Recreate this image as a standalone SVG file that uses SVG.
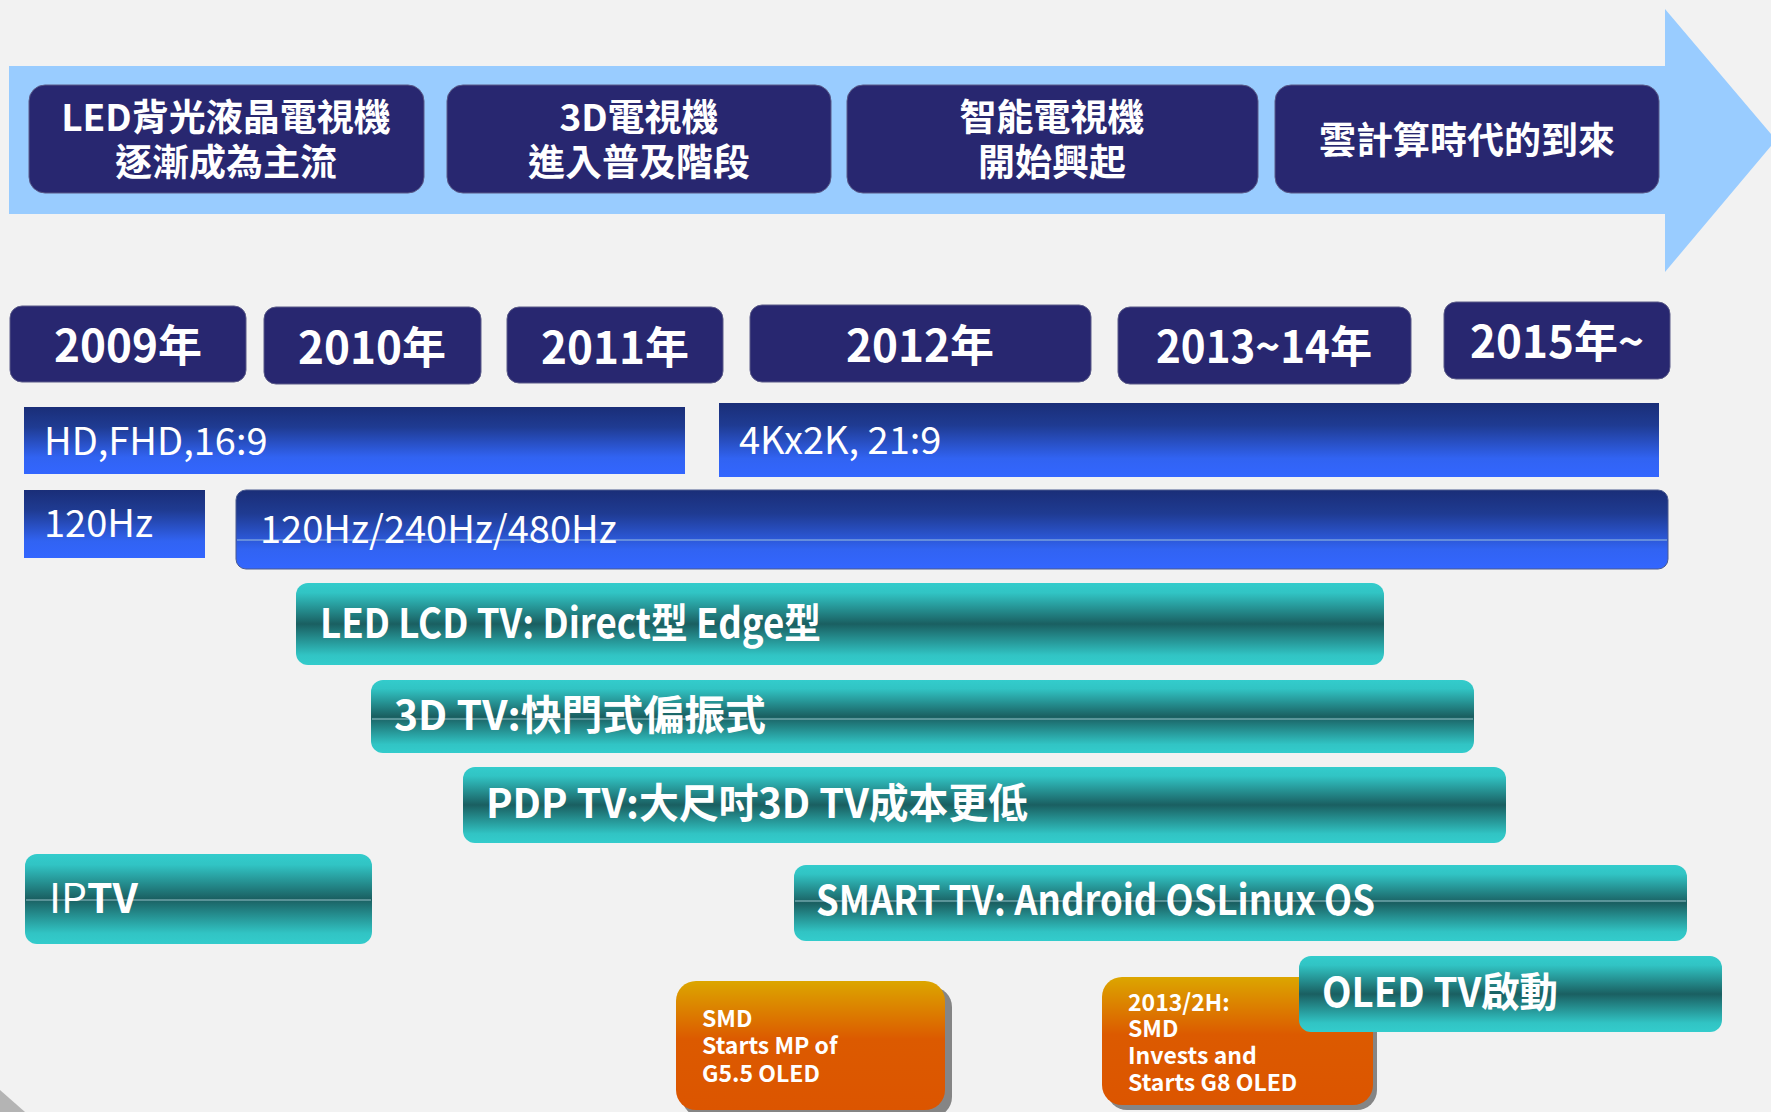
<svg xmlns="http://www.w3.org/2000/svg" width="1771" height="1112" viewBox="0 0 1771 1112">
<defs>
<linearGradient id="gBlue" x1="0" y1="0" x2="0" y2="1">
<stop offset="0" stop-color="#1A2E78"/>
<stop offset="0.3" stop-color="#1F3B92"/>
<stop offset="0.75" stop-color="#3163F2"/>
<stop offset="1" stop-color="#3366FF"/>
</linearGradient>
<linearGradient id="gTeal" x1="0" y1="0" x2="0" y2="1">
<stop offset="0" stop-color="#33CCCC"/>
<stop offset="0.12" stop-color="#31C4C4"/>
<stop offset="0.5" stop-color="#1A5F61"/>
<stop offset="0.88" stop-color="#31C4C4"/>
<stop offset="1" stop-color="#33CCCC"/>
</linearGradient>
<linearGradient id="gOrange" x1="0" y1="0" x2="0" y2="1">
<stop offset="0" stop-color="#DCA600"/>
<stop offset="0.45" stop-color="#DC5A00"/>
<stop offset="1" stop-color="#DC5500"/>
</linearGradient>
<style>
text{font-family:"Noto Sans CJK TC","Liberation Sans",sans-serif;fill:#FFFFFF}
.navy{fill:#282770;stroke:#5A5A88;stroke-width:1}
.top{font-size:37px;font-weight:bold;text-anchor:middle}
.yr{font-size:44px;font-weight:bold;text-anchor:middle}
.blue{fill:url(#gBlue)}
.bt{font-size:38px}
.teal{fill:url(#gTeal)}
.tt{font-size:41px;font-weight:bold}
.hl{stroke:#B8D8E0;stroke-opacity:0.55;stroke-width:1.5}
.org{fill:url(#gOrange)}
.shadow{fill:#858585}
.ot{font-size:23px;font-weight:bold}
</style>
</defs>
<rect x="0" y="0" width="1771" height="1112" fill="#F2F2F2"/>
<path d="M0,1090 L25,1112 L0,1112 Z" fill="#9A9A9A" opacity="0.7"/>

<g id="timeline-arrow">
<polygon points="9,66 1665,66 1665,9 1776,140 1665,272 1665,214 9,214" fill="#99CCFF"/>
</g>

<g id="phase-led">
<rect class="navy" x="29" y="85" width="395" height="108" rx="16"/>
<text class="top" x="226" y="131">LED背光液晶電視機</text>
<text class="top" x="226" y="176">逐漸成為主流</text>
</g>
<g id="phase-3d">
<rect class="navy" x="447" y="85" width="384" height="108" rx="16"/>
<text class="top" x="639" y="131">3D電視機</text>
<text class="top" x="639" y="176">進入普及階段</text>
</g>
<g id="phase-smart">
<rect class="navy" x="847" y="85" width="411" height="108" rx="16"/>
<text class="top" x="1052" y="131">智能電視機</text>
<text class="top" x="1052" y="176">開始興起</text>
</g>
<g id="phase-cloud">
<rect class="navy" x="1275" y="85" width="384" height="108" rx="16"/>
<text class="top" x="1467" y="154">雲計算時代的到來</text>
</g>

<g id="year-2009">
<rect class="navy" x="10" y="306" width="236" height="76" rx="12"/>
<text class="yr" x="128" y="362">2009年</text>
</g>
<g id="year-2010">
<rect class="navy" x="264" y="307" width="217" height="77" rx="12"/>
<text class="yr" x="372" y="364">2010年</text>
</g>
<g id="year-2011">
<rect class="navy" x="507" y="307" width="216" height="76" rx="12"/>
<text class="yr" x="615" y="364">2011年</text>
</g>
<g id="year-2012">
<rect class="navy" x="750" y="305" width="341" height="77" rx="12"/>
<text class="yr" x="920" y="362">2012年</text>
</g>
<g id="year-2013">
<rect class="navy" x="1118" y="307" width="293" height="77" rx="12"/>
<text class="yr" x="1264" y="363" textLength="216" lengthAdjust="spacingAndGlyphs">2013~14年</text>
</g>
<g id="year-2015">
<rect class="navy" x="1444" y="302" width="226" height="77" rx="12"/>
<text class="yr" x="1557" y="358">2015年~</text>
</g>

<g id="bar-hd">
<rect class="blue" x="24" y="407" width="661" height="67"/>
<text class="bt" x="44" y="455">HD,FHD,16:9</text>
</g>
<g id="bar-4k">
<rect class="blue" x="719" y="403" width="940" height="74"/>
<text class="bt" x="739" y="454">4Kx2K, 21:9</text>
</g>
<g id="bar-120">
<rect class="blue" x="24" y="490" width="181" height="68"/>
<text class="bt" x="44" y="537">120Hz</text>
</g>
<g id="bar-480">
<rect class="blue" x="236" y="490" width="1432" height="79" rx="10" stroke="#4A5A90" stroke-width="1"/>
<line class="hl" x1="237" y1="540" x2="1667" y2="540" stroke="#6C8CF0"/>
<text class="bt" x="260" y="543">120Hz/240Hz/480Hz</text>
</g>

<g id="bar-ledlcd">
<rect class="teal" x="296" y="583" width="1088" height="82" rx="12"/>
<text class="tt" x="320" y="638" textLength="501" lengthAdjust="spacingAndGlyphs">LED LCD TV: Direct型 Edge型</text>
</g>
<g id="bar-3dtv">
<rect class="teal" x="371" y="680" width="1103" height="73" rx="12"/>
<line class="hl" x1="372" y1="719" x2="1473" y2="719"/>
<text class="tt" x="394" y="730" textLength="372" lengthAdjust="spacingAndGlyphs">3D TV:快門式偏振式</text>
</g>
<g id="bar-pdp">
<rect class="teal" x="463" y="767" width="1043" height="76" rx="12"/>
<text class="tt" x="486" y="818" textLength="542" lengthAdjust="spacingAndGlyphs">PDP TV:大尺吋3D TV成本更低</text>
</g>
<g id="bar-iptv">
<rect class="teal" x="25" y="854" width="347" height="90" rx="12"/>
<line class="hl" x1="26" y1="900" x2="371" y2="900"/>
<text class="tt" x="49" y="913" font-size="38"><tspan font-weight="normal">IP</tspan>TV</text>
</g>
<g id="bar-smart">
<rect class="teal" x="794" y="865" width="893" height="76" rx="12"/>
<line class="hl" x1="795" y1="901" x2="1686" y2="901"/>
<text class="tt" x="816" y="915" textLength="559" lengthAdjust="spacingAndGlyphs">SMART TV: Android OSLinux OS</text>
</g>

<g id="note-g55">
<rect class="shadow" x="682" y="987" width="270" height="130" rx="20"/>
<rect class="org" x="676" y="981" width="269" height="129" rx="20"/>
<text class="ot" x="702" y="1027">SMD</text>
<text class="ot" x="702" y="1054">Starts MP of</text>
<text class="ot" x="702" y="1082">G5.5 OLED</text>
</g>
<g id="note-g8">
<rect class="shadow" x="1107" y="982" width="270" height="128" rx="20"/>
<rect class="org" x="1102" y="977" width="271" height="128" rx="20"/>
<text class="ot" x="1128" y="1011">2013/2H:</text>
<text class="ot" x="1128" y="1037">SMD</text>
<text class="ot" x="1128" y="1064">Invests and</text>
<text class="ot" x="1128" y="1091">Starts G8 OLED</text>
</g>
<g id="bar-oled">
<rect class="teal" x="1299" y="956" width="423" height="76" rx="12"/>
<text class="tt" x="1322" y="1007" textLength="236" lengthAdjust="spacingAndGlyphs">OLED TV啟動</text>
</g>

<g id="connectors"/>
</svg>
